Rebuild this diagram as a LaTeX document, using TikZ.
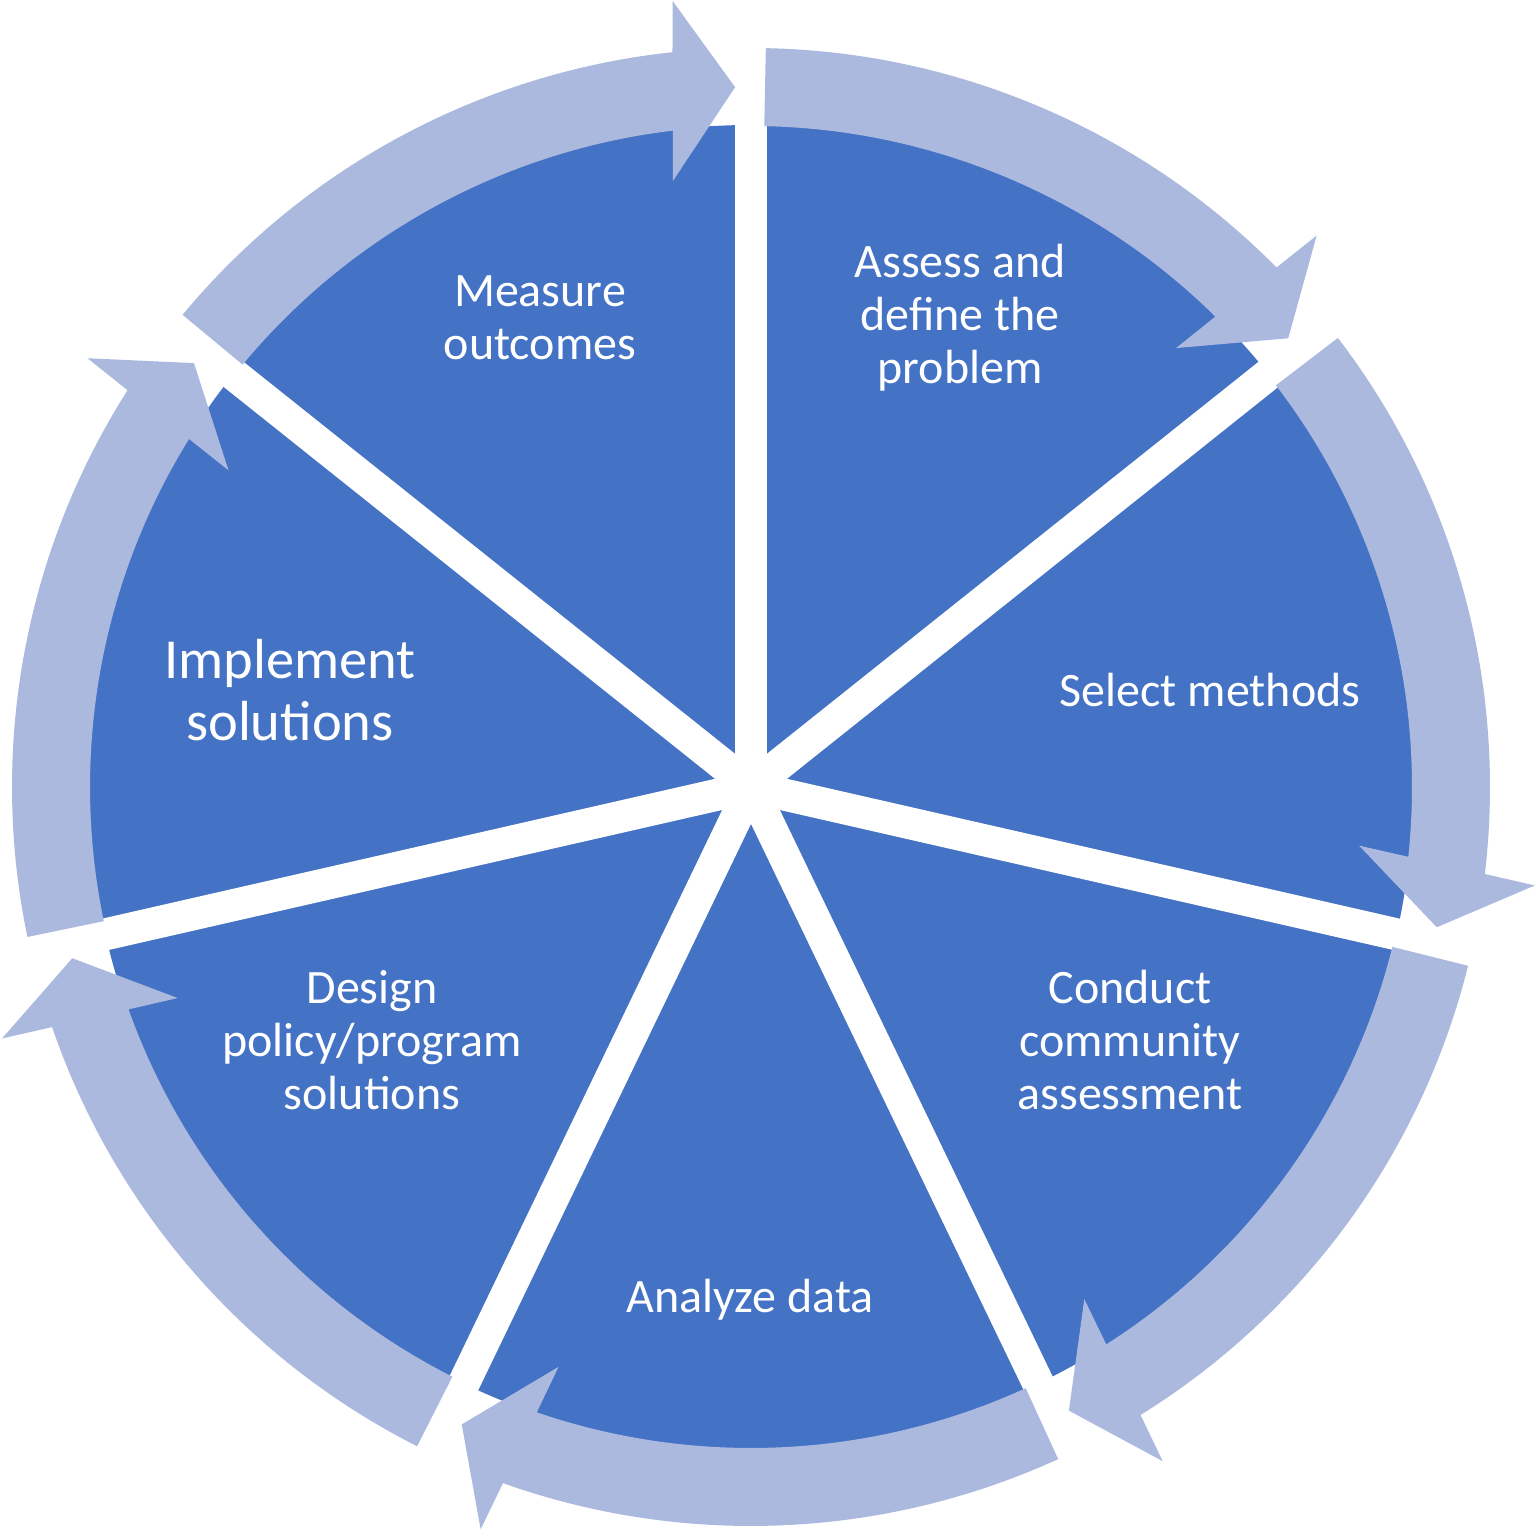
\documentclass[tikz,border=0pt]{standalone}
\usepackage{fontspec}
\setmainfont{Carlito}
\definecolor{slicecol}{RGB}{68,114,196}
\definecolor{ringcol}{RGB}{172,185,223}
\begin{document}
\begin{tikzpicture}[x=1pt,y=1pt,
  lbl/.style={text=white, align=center, font=\fontsize{48}{53}\selectfont},
  biglbl/.style={text=white, align=center, font=\fontsize{56.5}{62}\selectfont},
  gapline/.style={draw=white, line width=32pt},
  ringarrow/.style={fill=ringcol, draw=none}]
\useasboundingbox (-751,-749) rectangle (785,787);
\coordinate (c) at (0,0);
% pie
\fill[slicecol] (c) circle[radius=662pt];
\foreach \a in {90,38.5714,-12.8571,-64.2857,-115.7143,-167.1429,141.4286}
  \draw[gapline] (c) -- (\a:760pt);
% circular arrows
\foreach \T/\P in {140.28/91.3, 88.85/39.87, 37.42/-11.56, -14.0/-62.99, -65.44/-114.41, -116.86/-165.84, -168.29/-217.27}
  \fill[ringarrow] (\T:661pt) arc[start angle=\T, end angle=\P+5.5, radius=661pt]
     -- ({\P+6.05}:611pt) -- ({\P}:700pt) -- ({\P+4.4}:790pt) -- ({\P+4.8}:739pt)
     arc[start angle=\P+4.8, end angle=\T, radius=739pt] -- cycle;
% labels
\node[lbl] (measure) at (-211,469) {Measure\\outcomes};
\node[lbl] (assess) at (209,469) {Assess and\\define the\\problem};
\node[lbl] (select) at (459,97) {Select methods};
\node[lbl] (conduct) at (379,-253) {Conduct\\community\\assessment};
\node[lbl] (analyze) at (-1,-513) {Analyze data};
\node[lbl] (design) at (-379,-253) {Design\\policy/program\\solutions};
\node[biglbl] (implement) at (-461,97) {Implement\\solutions};
\end{tikzpicture}
\end{document}
